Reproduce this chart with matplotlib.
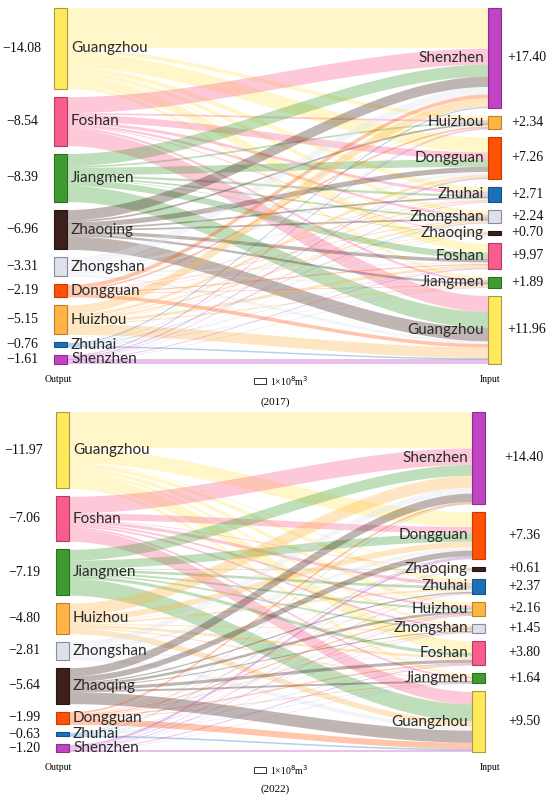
import matplotlib.pyplot as plt
from matplotlib.patches import Rectangle
import numpy as np

# ---- data -------------------------------------------------------------
left_2017 = ["Guangzhou", "Foshan", "Jiangmen", "Zhaoqing", "Zhongshan",
             "Dongguan", "Huizhou", "Zhuhai", "Shenzhen"]
output_2017 = ["−14.08", "−8.54", "−8.39", "−6.96", "−3.31",
               "−2.19", "−5.15", "−0.76", "−1.61"]
right_2017 = ["Shenzhen", "Huizhou", "Dongguan", "Zhuhai", "Zhongshan",
              "Zhaoqing", "Foshan", "Jiangmen", "Guangzhou"]
input_2017 = ["+17.40", "+2.34", "+7.26", "+2.71", "+2.24",
              "+0.70", "+9.97", "+1.89", "+11.96"]
# rows: left cities, columns: right cities (1e8 m3)
flows_2017 = [
    [7.00, 0.68, 2.60, 0.80, 0.70, 0.20, 1.60, 0.50, 0.00],
    [2.80, 0.30, 1.20, 0.50, 0.40, 0.15, 0.00, 0.40, 2.79],
    [2.10, 0.30, 1.30, 0.40, 0.30, 0.10, 1.10, 0.00, 2.79],
    [1.80, 0.32, 0.90, 0.30, 0.30, 0.00, 0.60, 0.40, 2.34],
    [1.30, 0.20, 0.50, 0.30, 0.00, 0.05, 0.30, 0.20, 0.46],
    [0.70, 0.30, 0.00, 0.10, 0.10, 0.05, 0.20, 0.10, 0.64],
    [1.50, 0.00, 0.50, 0.20, 0.30, 0.10, 0.50, 0.20, 1.85],
    [0.20, 0.04, 0.06, 0.00, 0.10, 0.02, 0.05, 0.04, 0.25],
    [0.00, 0.20, 0.20, 0.11, 0.04, 0.03, 0.14, 0.05, 0.84],
]

left_2022 = ["Guangzhou", "Foshan", "Jiangmen", "Huizhou", "Zhongshan",
             "Zhaoqing", "Dongguan", "Zhuhai", "Shenzhen"]
output_2022 = ["−11.97", "−7.06", "−7.19", "−4.80", "−2.81",
               "−5.64", "−1.99", "−0.63", "−1.20"]
right_2022 = ["Shenzhen", "Dongguan", "Zhaoqing", "Zhuhai", "Huizhou",
              "Zhongshan", "Foshan", "Jiangmen", "Guangzhou"]
input_2022 = ["+14.40", "+7.36", "+0.61", "+2.37", "+2.16",
              "+1.45", "+3.80", "+1.64", "+9.50"]
flows_2022 = [
    [5.62, 2.30, 0.15, 0.60, 0.60, 0.40, 1.80, 0.50, 0.00],
    [2.60, 1.00, 0.10, 0.50, 0.30, 0.30, 0.00, 0.30, 1.96],
    [1.70, 1.30, 0.10, 0.40, 0.30, 0.25, 0.50, 0.00, 2.64],
    [1.90, 0.90, 0.08, 0.30, 0.00, 0.15, 0.40, 0.20, 0.87],
    [0.90, 0.50, 0.05, 0.20, 0.20, 0.00, 0.20, 0.15, 0.61],
    [1.30, 0.90, 0.00, 0.20, 0.40, 0.15, 0.50, 0.30, 1.89],
    [0.30, 0.00, 0.05, 0.07, 0.20, 0.10, 0.20, 0.10, 0.97],
    [0.08, 0.10, 0.03, 0.00, 0.04, 0.05, 0.05, 0.04, 0.24],
    [0.00, 0.36, 0.05, 0.10, 0.12, 0.05, 0.15, 0.05, 0.32],
]

city_colors = {
    "Guangzhou": ("#FFE95C", "#A89A40"),
    "Foshan": ("#FA5C8E", "#B0405F"),
    "Jiangmen": ("#3E9B2F", "#2C6E22"),
    "Zhaoqing": ("#3D201B", "#2A1512"),
    "Zhongshan": ("#DDE1EC", "#8C8C99"),
    "Dongguan": ("#FF5205", "#C03E04"),
    "Huizhou": ("#FFB446", "#B9822F"),
    "Zhuhai": ("#1C70B8", "#145288"),
    "Shenzhen": ("#C144C4", "#8C2F8F"),
}

NAME_FONT = ["Lato", "DejaVu Sans"]
NUM_FONT = ["Liberation Serif", "DejaVu Serif"]


def node_positions(values, top, scale, gap):
    ys = []
    y = top
    for v in values:
        ys.append(y)
        y += v * scale + gap
    return ys


def draw_sankey(ax, lnames, lvals, rnames, rvals, flows, top, bottom,
                xl, xr, node_w, lname_x, rname_x, lval_x, rval_x, gap=8):
    flows = np.array(flows)
    out_tot = flows.sum(axis=1)
    in_tot = flows.sum(axis=0)
    n = len(lnames)
    scale = (bottom - top - gap * (n - 1)) / out_tot.sum()
    ly = node_positions(out_tot, top, scale, gap)
    ry = node_positions(in_tot, top, scale, gap)

    # ribbons
    lcur = list(ly)
    rcur = list(ry)
    t = np.linspace(0, 1, 80)
    s = 3 * t ** 2 - 2 * t ** 3
    x = (xl + node_w) + (xr - xl - node_w) * t
    bands = []
    for i in range(n):
        for j in range(len(rnames)):
            f = flows[i, j]
            if f <= 0:
                continue
            h = f * scale
            bands.append((lcur[i], rcur[j], h, lnames[i]))
            lcur[i] += h
    # target-side stacking: by source order
    rcur = list(ry)
    rstart = {}
    for i in range(n):
        for j in range(len(rnames)):
            f = flows[i, j]
            if f <= 0:
                continue
            rstart[(i, j)] = rcur[j]
            rcur[j] += f * scale
    k = 0
    for i in range(n):
        for j in range(len(rnames)):
            f = flows[i, j]
            if f <= 0:
                continue
            y0, _, h, name = bands[k]
            k += 1
            y1 = rstart[(i, j)]
            ytop = y0 + (y1 - y0) * s
            ax.fill_between(x, ytop, ytop + h, color=city_colors[name][0],
                            alpha=0.33, lw=0, zorder=1)

    # nodes and labels
    for i, name in enumerate(lnames):
        h = out_tot[i] * scale
        fc, ec = city_colors[name]
        ax.add_patch(Rectangle((xl, ly[i]), node_w, h, facecolor=fc,
                               edgecolor=ec, lw=0.8, zorder=3))
        yc = ly[i] + h / 2
        ax.text(lname_x, yc, name, ha="left", va="center", fontsize=11,
                family=NAME_FONT, color="#2b2b2b", zorder=4)
        ax.text(lval_x, yc, lvals[i], ha="center", va="center", fontsize=10,
                family=NUM_FONT, color="#111111", zorder=4)
    for j, name in enumerate(rnames):
        h = in_tot[j] * scale
        fc, ec = city_colors[name]
        ax.add_patch(Rectangle((xr, ry[j]), node_w, h, facecolor=fc,
                               edgecolor=ec, lw=0.8, zorder=3))
        yc = ry[j] + h / 2
        ax.text(rname_x, yc, name, ha="right", va="center", fontsize=11,
                family=NAME_FONT, color="#2b2b2b", zorder=4)
        ax.text(rval_x, yc, rvals[j], ha="center", va="center", fontsize=10,
                family=NUM_FONT, color="#111111", zorder=4)
    return scale


fig = plt.figure(figsize=(5.5, 7.97), dpi=100)
ax = fig.add_axes([0, 0, 1, 1])
ax.set_xlim(0, 550)
ax.set_ylim(797, 0)
ax.axis("off")

sc1 = draw_sankey(ax, left_2017, output_2017, right_2017, input_2017, flows_2017,
                  top=8, bottom=364, xl=54, xr=488, node_w=13,
                  lname_x=71, rname_x=484, lval_x=22, rval_x=527)
sc2 = draw_sankey(ax, left_2022, output_2022, right_2022, input_2022, flows_2022,
                  top=412, bottom=752, xl=56, xr=472, node_w=13,
                  lname_x=73, rname_x=468, lval_x=24, rval_x=524)

for sc, y_lab, y_unit, y_year, year, x_in in [(sc1, 379, 381, 402, "(2017)", 490),
                                            (sc2, 767, 770, 789, "(2022)", 490)]:
    ax.text(58, y_lab, "Output", ha="center", va="center", fontsize=7,
            family=NUM_FONT)
    ax.text(x_in, y_lab, "Input", ha="center", va="center", fontsize=7,
            family=NUM_FONT)
    ax.add_patch(Rectangle((254, y_unit - sc / 2), 12, sc, facecolor="white",
                           edgecolor="#333333", lw=0.7))
    ax.text(270, y_unit, r"1×10$^8$m$^3$", ha="left", va="center", fontsize=7,
            family=NUM_FONT)
    ax.text(275, y_year, year, ha="center", va="center", fontsize=8,
            family=NUM_FONT)

plt.rcParams["mathtext.fontset"] = "stix"
fig.savefig("out.png", dpi=100)
